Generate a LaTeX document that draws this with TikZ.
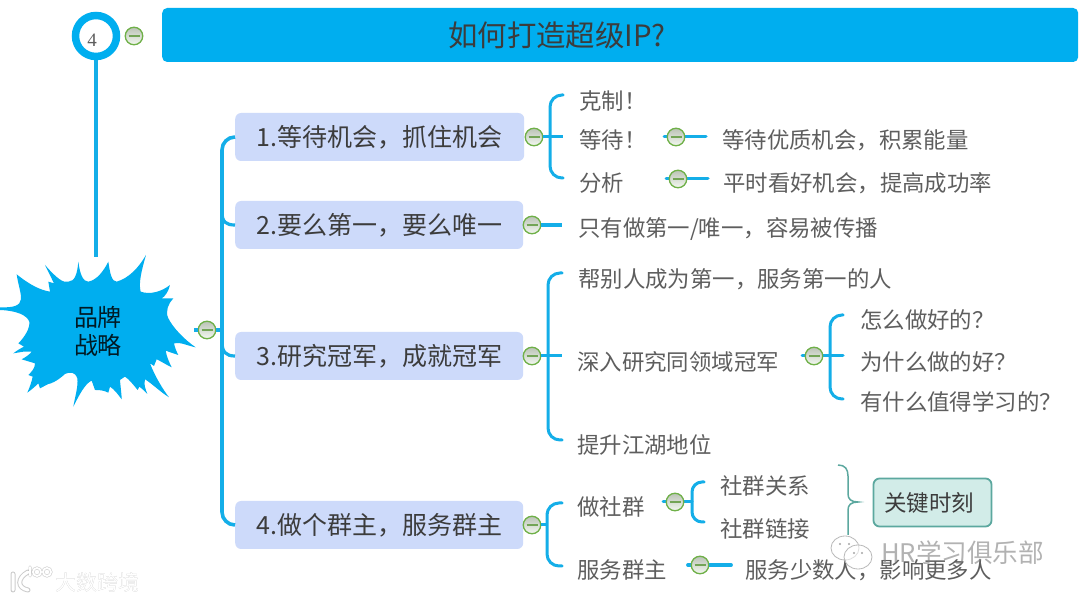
\documentclass[tikz,border=0pt]{standalone}
\usepackage{fontspec}
\setmainfont{Noto Sans CJK SC}
\newfontfamily\numfont{Liberation Serif}
\usetikzlibrary{shadings}
\definecolor{sky}{HTML}{00AEEF}
\definecolor{linec}{HTML}{14AEE8}
\definecolor{boxc}{HTML}{CDDAFA}
\definecolor{leafc}{HTML}{5E5E5E}
\definecolor{darkc}{HTML}{3C3C3C}
\definecolor{togc}{HTML}{6FB048}
\definecolor{tealc}{HTML}{5CA89F}
\definecolor{tealf}{HTML}{D2ECE8}
\tikzset{
  conn/.style={draw=linec,line width=3pt,line cap=round},
  connthick/.style={draw=linec,line width=3.8pt,line cap=round},
  bracket/.style={conn,rounded corners=12pt},
  trunk/.style={draw=linec,line width=3.6pt,rounded corners=13pt},
  toggle/.style={circle,draw=togc,line width=1.3pt,minimum size=17.5pt,inner sep=0pt,
    top color=white!80!togc!60!gray,bottom color=white!92!togc,
    path picture={\draw[togc!75!gray,line width=1.6pt] ([xshift=-5.5pt]path picture bounding box.center) -- ([xshift=5.5pt]path picture bounding box.center);}},
  topic/.style={fill=boxc,rounded corners=6pt,minimum width=288pt,minimum height=48pt,inner sep=0pt,text=darkc,font=\fontsize{25}{25}\selectfont,anchor=west},
  leaf/.style={anchor=west,inner sep=0pt,text=leafc,font=\fontsize{22.4}{22.4}\selectfont},
}
\begin{document}
\begin{tikzpicture}[x=1pt,y=-1pt]
\useasboundingbox (0,0) rectangle (1080,601);
\fill[white] (0,0) rectangle (1080,601);

% title
\node[fill=sky,rounded corners=5pt,minimum width=916pt,minimum height=54pt,inner sep=0pt,anchor=west] (title) at (162,35) {};
\node[text=darkc,font=\fontsize{29.4}{29.4}\selectfont,inner sep=0pt,anchor=west] (titletext) at (448,35) {如何打造超级IP?};

% number ring
\node[circle,draw=sky,line width=7.5pt,fill=white,minimum size=41pt,inner sep=0pt] (num) at (96,36) {};
\node[text=leafc,inner sep=0pt,font=\numfont\fontsize{19}{19}\selectfont] (numtext) at (92,40) {4};
\node[toggle] (tnum) at (134,36) {};
\coordinate (rootin) at (96,257);
\draw[draw=linec,line width=4pt] (num.south) -- (rootin);

% burst
\begin{scope}[x=0.33333pt,y=-0.33333pt,shift={(0,720)}]
\fill[sky] (0,202) .. controls (90,205) and (60,170) .. (50,103)
 .. controls (90,135) and (120,150) .. (150,155) -- (145,125) -- (162,130)
 .. controls (150,105) .. (135,75)
 .. controls (170,115) and (190,130) .. (205,125)
 .. controls (225,125) and (232,100) .. (235,65)
 .. controls (240,105) and (250,125) .. (265,125)
 .. controls (290,120) and (310,95) .. (325,65)
 .. controls (330,100) and (335,125) .. (350,125)
 .. controls (385,115) and (415,85) .. (438,45)
 .. controls (425,90) and (415,130) .. (422,155)
 .. controls (450,165) and (485,155) .. (510,135)
 .. controls (505,155) and (495,170) .. (485,175) -- (520,175)
 .. controls (505,190) and (495,215) .. (505,235)
 .. controls (520,265) and (555,300) .. (587,322)
 .. controls (565,318) and (540,305) .. (522,310)
 .. controls (525,325) and (530,335) .. (535,345)
 .. controls (520,340) and (505,335) .. (497,332)
 .. controls (500,350) and (508,368) .. (515,382)
 .. controls (500,375) and (480,362) .. (470,358) -- (462,378) -- (450,370)
 .. controls (465,410) and (490,450) .. (507,472)
 .. controls (480,455) and (455,430) .. (435,418)
 .. controls (430,435) and (438,450) .. (442,462)
 .. controls (430,450) and (425,445) .. (418,440) -- (413,450)
 .. controls (400,435) and (390,420) .. (375,410) -- (360,420)
 .. controls (362,445) and (365,465) .. (365,478)
 .. controls (355,465) and (345,450) .. (330,440) -- (325,458)
 .. controls (310,450) and (295,450) .. (285,450) -- (275,422)
 .. controls (255,430) and (235,470) .. (220,500)
 .. controls (225,470) and (235,440) .. (232,415)
 .. controls (225,395) and (210,395) .. (195,402)
 .. controls (170,425) and (150,432) .. (145,432) -- (120,445) -- (115,430)
 .. controls (100,445) and (90,452) .. (82,458)
 .. controls (90,440) and (95,425) .. (98,410) -- (85,405)
 .. controls (95,395) and (105,385) .. (105,370) -- (65,358)
 .. controls (80,350) and (90,342) .. (95,335) -- (70,335) -- (40,340)
 .. controls (50,332) and (62,325) .. (72,320) -- (55,310)
 .. controls (75,290) and (90,265) .. (88,245)
 .. controls (80,225) and (50,212) .. (0,210) -- cycle;
\end{scope}
\node[align=center,text=black!85!sky,inner sep=0pt,font=\fontsize{24}{28}\selectfont] (root) at (98,331) {品牌\\战略};

% topics
\node[topic,minimum width=289pt] (b1) at (235,137) {1.等待机会，抓住机会};
\node[topic] (b2) at (235,225) {2.要么第一，要么唯一};
\node[topic] (b3) at (235,356) {3.研究冠军，成就冠军};
\node[topic] (b4) at (235,525) {4.做个群主，服务群主};

% trunk
\coordinate (rootout) at (194,330);
\coordinate (trunkmid) at (222,330);
\node[toggle] (troot) at (207,330) {};
\draw[connthick,line cap=butt] (rootout) -- (troot.west);
\draw[connthick,line cap=butt] (troot.east) -- (trunkmid);
\draw[trunk] (b1.west) -| (trunkmid) |- (b4.west);
\draw[draw=linec,line width=3.2pt] (222,212) .. controls (222,222) and (226,225) .. (b2.west);
\draw[draw=linec,line width=3.2pt] (222,342) .. controls (222,352) and (226,356) .. (b3.west);

% topic 1
\node[toggle] (t1) at (534,137) {};
\coordinate (j1) at (550,137);
\coordinate (e1a) at (563,95);
\coordinate (e1b) at (563,137);
\coordinate (e1c) at (563,178);
\draw[conn,line cap=butt] (t1.east) -- (e1b);
\draw[bracket] (e1a) -| (j1) |- (e1c);
\node[leaf] (l1a) at (579,101) {克制！};
\node[leaf] (l1b) at (579,140) {等待！};
\node[leaf] (l1c) at (579,183) {分析};
\coordinate (s1b) at (664,137);
\coordinate (f1b) at (706,137);
\draw[conn] (s1b) -- (f1b);
\node[toggle] (t1b) at (676,137) {};
\node[leaf] (l1b2) at (722,140) {等待优质机会，积累能量};
\coordinate (s1c) at (666,179);
\coordinate (f1c) at (708,179);
\draw[conn] (s1c) -- (f1c);
\node[toggle] (t1c) at (678,179) {};
\node[leaf] (l1c2) at (723,183) {平时看好机会，提高成功率};

% topic 2
\node[toggle] (t2) at (532,225) {};
\coordinate (f2) at (562,225);
\draw[connthick,line cap=butt] (t2.east) -- (f2);
\node[leaf] (l2) at (578,229) {只有做第一/唯一，容易被传播};

% topic 3
\node[toggle] (t3) at (532,356) {};
\coordinate (j3) at (548,356);
\coordinate (e3a) at (562,273);
\coordinate (e3b) at (562,356);
\coordinate (e3c) at (562,440);
\draw[conn,line cap=butt] (t3.east) -- (e3b);
\draw[bracket] (e3a) -| (j3) |- (e3c);
\node[leaf] (l3a) at (578,279) {帮别人成为第一，服务第一的人};
\node[leaf] (l3b) at (577,362) {深入研究同领域冠军};
\node[leaf] (l3c) at (577,445) {提升江湖地位};
\coordinate (s3b) at (802,356);
\coordinate (j3b) at (830,356);
\coordinate (e3ba) at (843,315);
\coordinate (e3bb) at (843,356);
\coordinate (e3bc) at (843,399);
\draw[conn] (s3b) -- (e3bb);
\draw[bracket] (e3ba) -| (j3b) |- (e3bc);
\node[toggle] (t3b) at (814,356) {};
\node[leaf] (l3ba) at (860,320) {怎么做好的？};
\node[leaf] (l3bb) at (860,362) {为什么做的好？};
\node[leaf] (l3bc) at (860,402) {有什么值得学习的？};

% topic 4
\node[toggle] (t4) at (532,525) {};
\coordinate (j4) at (547,525);
\coordinate (e4a) at (562,503);
\coordinate (e4b) at (562,566);
\draw[conn,line cap=butt] (t4.east) -- (j4);
\draw[bracket] (e4a) -| (j4) |- (e4b);
\node[leaf] (l4a) at (577,507) {做社群};
\node[leaf] (l4b) at (577,570) {服务群主};
\coordinate (s4a) at (663,502);
\coordinate (j4a) at (692,502);
\coordinate (e4aa) at (704,482);
\coordinate (e4ab) at (704,522);
\draw[conn] (s4a) -- (j4a);
\draw[bracket,rounded corners=10pt] (e4aa) -| (j4a) |- (e4ab);
\node[toggle] (t4a) at (675,502) {};
\node[leaf] (l4aa) at (720,486) {社群关系};
\node[leaf] (l4ab) at (720,529) {社群链接};
\coordinate (s4b) at (688,565);
\coordinate (f4b) at (731,565);
\draw[connthick] (s4b) -- (f4b);
\node[toggle] (t4b) at (700,565) {};
\node[leaf] (l4b2) at (745,570) {服务少数人，影响更多人};

% summary brace and callout
\node[draw=tealc,line width=1.8pt,fill=tealf,rounded corners=6pt,minimum width=118pt,minimum height=48pt,inner sep=0pt,text=darkc,font=\fontsize{22.5}{22.5}\selectfont] (key) at (932.5,502.5) {\hspace*{-7pt}关键时刻};
\coordinate (bra) at (838,465);
\coordinate (brb) at (848,535);
\coordinate (brtip) at (858,502);
\draw[draw=tealc,line width=1.5pt] (bra) .. controls (845,465) and (848,469) .. (848,476) -- (848,494)
  .. controls (848,499) and (851,502) .. (brtip) .. controls (851,502) and (848,505) .. (848,510) -- (brb);

% watermarks
\begin{scope}[line width=0.8pt]
\draw[gray!55,fill=white,fill opacity=.55] (845,548) ellipse (14pt and 12pt);
\draw[gray!55,fill=white,fill opacity=.55] (858,557) ellipse (14pt and 12pt);
\fill[gray!70] (840,544) circle (1.2pt) (849,544) circle (1.2pt) (854,553) circle (1.2pt) (862,553) circle (1.2pt);
\end{scope}
\node[anchor=west,inner sep=0pt,text=gray,text opacity=.6,font=\fontsize{25.6}{25.6}\selectfont] (wm1) at (881,553) {HR学习俱乐部};
\begin{scope}[line cap=round]
\foreach \c/\w/\o in {gray/5/0.4,white/3/1}{
  \draw[\c,line width=\w pt,opacity=\o] (13,574) -- (13,590) (28,572) .. controls (17,578) and (17,588) .. (28,590);
  \draw[\c,line width=\w pt * 0.6,opacity=\o] (30,567) -- (30,576) (37,572) circle (4pt) (47,572) circle (4pt);
}
\end{scope}
\node[anchor=west,inner sep=0pt,text=gray!60,font=\fontsize{21}{21}\selectfont] at (55.8,582.8) {大数跨境};
\node[anchor=west,inner sep=0pt,text=white,font=\fontsize{21}{21}\selectfont] (wm2) at (55,582) {大数跨境};
\end{tikzpicture}
\end{document}
